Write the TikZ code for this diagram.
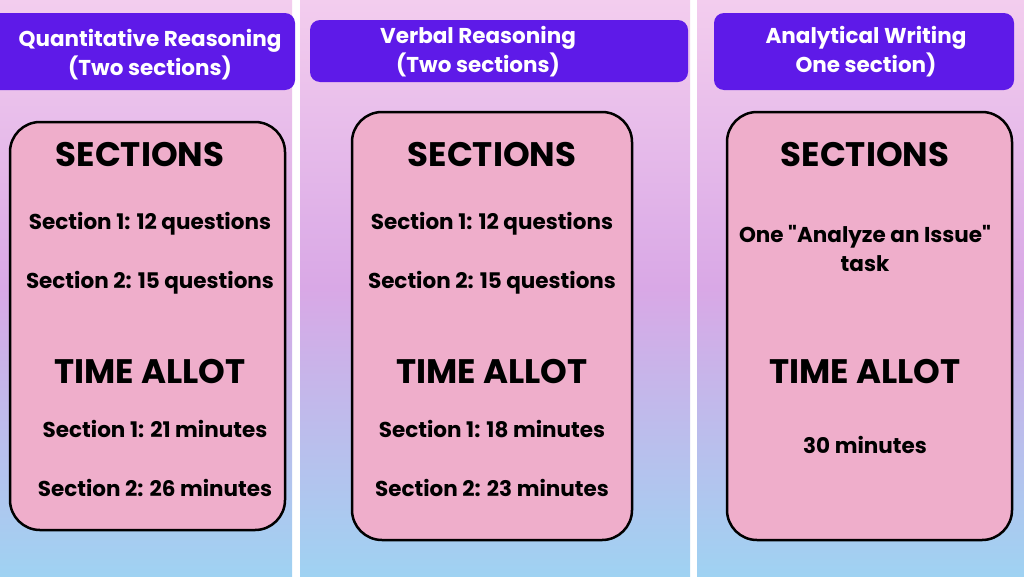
\documentclass[tikz,border=0pt]{standalone}
\usepackage{fontspec}
\setmainfont{Poppins}
\definecolor{hdr}{HTML}{5E1AE8}
\definecolor{card}{HTML}{EFAECB}
\definecolor{bgtop}{HTML}{F3CDEE}
\definecolor{bgmid}{HTML}{D9A8E6}
\definecolor{bgbot}{HTML}{9FD2F2}
\tikzset{
  panel/.style={top color=bgtop, bottom color=bgbot, middle color=bgmid, draw=none},
  header/.style={fill=hdr, rounded corners=10pt, draw=none},
  cardbox/.style={fill=card, draw=black, line width=2.5pt, rounded corners=30pt},
  htext/.style={text=white, font=\fontsize{21.5}{29}\selectfont\bfseries, align=center},
  title/.style={font=\fontsize{34}{38}\selectfont\bfseries},
  item/.style={font=\fontsize{21.5}{29}\selectfont\bfseries, align=center}
}
\begin{document}
\begin{tikzpicture}[x=1pt,y=-1pt]
  \fill[white] (0,0) rectangle (1024,576);
  \useasboundingbox (0,0) rectangle (1024,576);
  %% backgrounds
  \shade[panel] (0,0) rectangle (292,576);
  \shade[panel] (300,0) rectangle (690,576);
  \shade[panel] (697,0) rectangle (1024,576);
  %% headers
  \fill[header] (-12,13) rectangle (295,90);
  \fill[header] (310,20) rectangle (688,82);
  \fill[header] (714,13) rectangle (1014,90);
  \node[htext] (hq) at (150,55) {Quantitative Reasoning\\(Two sections)};
  \node[htext] (hv) at (478,52) {Verbal Reasoning\\(Two sections)};
  \node[htext] (ha) at (866,52) {Analytical Writing\\One section)};
  %% cards
  \draw[cardbox] (10,122) rectangle (285,530);
  \draw[cardbox] (352,112) rectangle (632,540);
  \draw[cardbox] (727,112) rectangle (1012,540);
  %% quantitative
  \node[title] (qs) at (140,155) {SECTIONS};
  \node[item] (q1) at (150,224) {Section 1: 12 questions};
  \node[item] (q2) at (150,283) {Section 2: 15 questions};
  \node[title] (qt) at (150,372) {TIME ALLOT};
  \node[item] (q3) at (155,429) {Section 1: 21 minutes};
  \node[item] (q4) at (155,488) {Section 2: 26 minutes};
  %% verbal
  \node[title] (vs) at (492,155) {SECTIONS};
  \node[item] (v1) at (492,224) {Section 1: 12 questions};
  \node[item] (v2) at (492,283) {Section 2: 15 questions};
  \node[title] (vt) at (492,372) {TIME ALLOT};
  \node[item] (v3) at (492,429) {Section 1: 18 minutes};
  \node[item] (v4) at (492,488) {Section 2: 23 minutes};
  %% analytical
  \node[title] (as) at (865,155) {SECTIONS};
  \node[item] (a1) at (865,248) {One \textquotedbl Analyze an Issue\textquotedbl\\task};
  \node[title] (at) at (865,372) {TIME ALLOT};
  \node[item] (a2) at (865,445) {30 minutes};
\end{tikzpicture}
\end{document}
